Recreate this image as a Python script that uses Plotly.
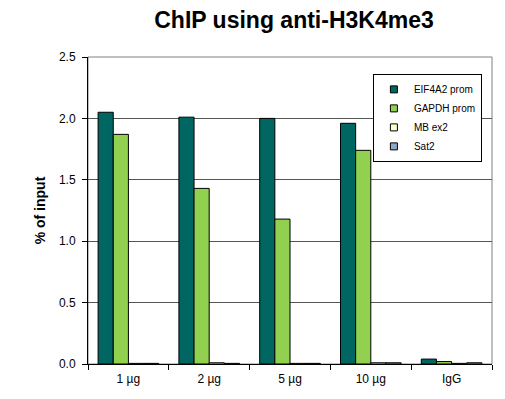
import plotly.graph_objects as go

categories = ["1 µg", "2 µg", "5 µg", "10 µg", "IgG"]
series_names = ["EIF4A2 prom", "GAPDH prom", "MB ex2", "Sat2"]
eif4a2 = [2.05, 2.01, 2.00, 1.96, 0.04]
gapdh = [1.87, 1.43, 1.18, 1.74, 0.02]
mb_ex2 = [0.005, 0.01, 0.005, 0.01, 0.005]
sat2 = [0.005, 0.005, 0.005, 0.01, 0.01]
colors = ["#006661", "#92D050", "#FFFFCC", "#8FA8C8"]
y_ticks = [0.0, 0.5, 1.0, 1.5, 2.0, 2.5]

fig = go.Figure()
for name, vals, c in zip(series_names, [eif4a2, gapdh, mb_ex2, sat2], colors):
    fig.add_trace(go.Bar(x=categories, y=vals, name=name, legendgroup=name, showlegend=False,
                         marker=dict(color=c, line=dict(color="#000000", width=1))))
# legend proxies with small square symbols
for name, c in zip(series_names, colors):
    fig.add_trace(go.Scatter(x=[None], y=[None], mode="markers", name=name, legendgroup=name,
                             marker=dict(symbol="square", size=7, color=c, line=dict(color="#000", width=1))))

fig.update_layout(
    width=497, height=391,
    paper_bgcolor="white", plot_bgcolor="white",
    barmode="group", bargap=0.25, bargroupgap=0,
    margin=dict(l=80, r=13, t=49, b=35),
    font=dict(family="Liberation Sans, Arial, sans-serif", color="#000000"),
    title=dict(text="<b>ChIP using anti-H3K4me3</b>", x=286 / 497, xanchor="center", y=1 - 12 / 391,
               yanchor="middle", font=dict(size=23)),
    legend=dict(x=0.975, y=0.945, xanchor="right", yanchor="top", bordercolor="#000000", borderwidth=1,
                bgcolor="white", font=dict(size=10), itemwidth=30, tracegroupgap=0),
    showlegend=True,
    shapes=[dict(type="rect", xref="paper", yref="paper", x0=0, x1=1, y0=0, y1=1,
                 line=dict(color="#808080", width=1), layer="below")],
)
fig.update_xaxes(type="category", tickson="boundaries", ticks="outside", ticklen=5, tickcolor="#000",
                 showline=True, linecolor="#000", linewidth=1, mirror=False, tickfont=dict(size=12),
                 ticklabelstandoff=4)
fig.update_yaxes(range=[0, 2.5], tickvals=y_ticks, ticktext=[f"{v:.1f}" for v in y_ticks], ticks="outside", ticklen=5,
                 tickcolor="#000", showline=True, linecolor="#000", linewidth=1, mirror=False,
                 showgrid=True, gridcolor="#555555", gridwidth=1, zeroline=False, tickfont=dict(size=12),
                 ticklabelstandoff=4,
                 title=dict(text="<b>% of input</b>", font=dict(size=14), standoff=10))
fig.write_html("out.html")
